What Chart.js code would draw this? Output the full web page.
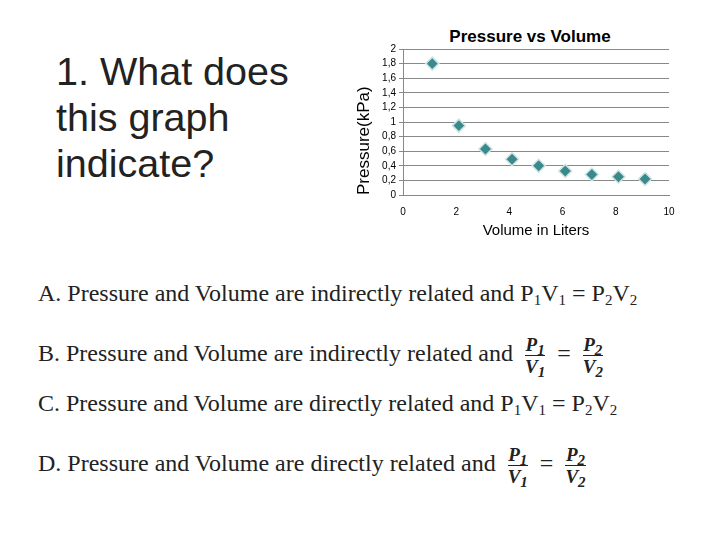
<!DOCTYPE html>
<html><head><meta charset="utf-8">
<script src="https://cdn.jsdelivr.net/npm/chart.js@4"></script>
<style>
body{margin:0;width:720px;height:540px;background:#fff;position:relative;overflow:hidden;font-family:Arial,"Liberation Sans",sans-serif}
#q{position:absolute;left:56px;top:48px;font-size:39.5px;line-height:46px;color:#222}
#title{position:absolute;left:340px;width:340px;top:27px;text-align:center;font-weight:bold;font-size:17px;padding-left:40px;box-sizing:border-box}
#cw{position:absolute;left:340px;top:20px;width:350px;height:220px}
.opt{position:absolute;left:38px;font-family:"Liberation Serif",serif;font-size:24px;color:#222;white-space:nowrap;line-height:30px}
.opt sub{font-size:15px;vertical-align:-4px;line-height:0}
.fr{display:inline-block;vertical-align:middle;text-align:center;font-weight:bold;font-style:italic;font-size:19px;line-height:21px;margin:0 6px}
.fr span{display:block}
.fr span:first-child{border-bottom:1.5px solid #222}
</style></head><body>
<div id="q">1. What does<br>this graph<br>indicate?</div>
<div id="title">Pressure vs Volume</div>
<div id="cw"><canvas id="c"></canvas></div>
<div class="opt" style="top:278px">A. Pressure and Volume are indirectly related and P<sub>1</sub>V<sub>1</sub> = P<sub>2</sub>V<sub>2</sub></div>
<div class="opt" style="top:334px">B. Pressure and Volume are indirectly related and <span class="fr"><span>P<sub>1</sub></span><span>V<sub>1</sub></span></span> = <span class="fr"><span>P<sub>2</sub></span><span>V<sub>2</sub></span></span></div>
<div class="opt" style="top:388px">C. Pressure and Volume are directly related and P<sub>1</sub>V<sub>1</sub> = P<sub>2</sub>V<sub>2</sub></div>
<div class="opt" style="top:444px">D. Pressure and Volume are directly related and <span class="fr"><span>P<sub>1</sub></span><span>V<sub>1</sub></span></span> = <span class="fr"><span>P<sub>2</sub></span><span>V<sub>2</sub></span></span></div>
<script>
const volume=[1.1,2.1,3.1,4.1,5.1,6.1,7.1,8.1,9.1];
const pressure=[1.8,0.95,0.63,0.49,0.4,0.33,0.28,0.25,0.22];
const xTicks=[0,2,4,6,8,10];
new Chart(document.getElementById('c'),{
type:'scatter',
data:{datasets:[{data:volume.map((v,i)=>({x:v,y:pressure[i]})),pointStyle:'rectRot',pointRadius:6.5,backgroundColor:'#3a8a8c',borderColor:'#cfe3e3',borderWidth:1.5}]},
options:{responsive:true,maintainAspectRatio:false,animation:false,
layout:{padding:{top:29,right:21,left:0,bottom:0}},
plugins:{legend:{display:false},tooltip:{enabled:false}},
scales:{
x:{min:0,max:10,afterFit:a=>{a.height=45},afterBuildTicks:a=>{a.ticks=xTicks.map(v=>({value:v}))},
 grid:{display:false},border:{color:'#888'},
 ticks:{color:'#000',font:{size:10,family:'Arial'},maxRotation:0},
 title:{display:true,text:'Volume in Liters',color:'#000',font:{size:15,family:'Arial'},padding:0}},
y:{min:0,max:2,afterFit:a=>{a.width=63},
 grid:{color:'#888',drawTicks:true,tickLength:4},border:{color:'#888'},
 ticks:{stepSize:0.2,autoSkip:false,color:'#000',font:{size:10,family:'Arial'},padding:3,callback:v=>String(Math.round(v*10)/10).replace('.',',')},
 title:{display:true,text:'Pressure(kPa)',color:'#000',font:{size:17,family:'Arial'},padding:{top:14,bottom:0},align:'start'}}
}}});
</script>
</body></html>
